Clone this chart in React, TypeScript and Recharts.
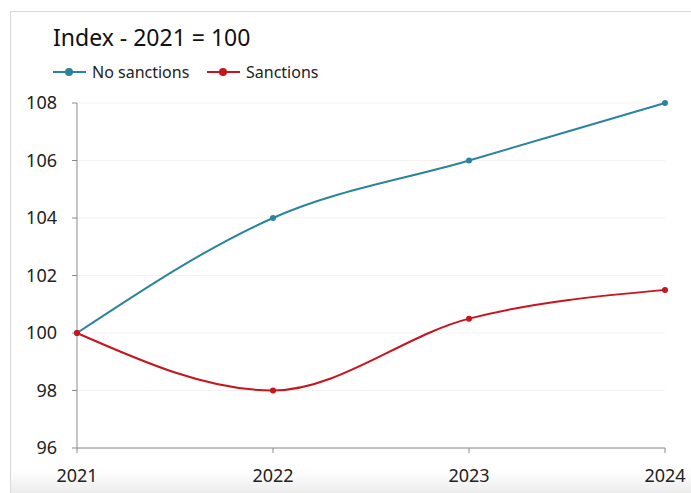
import React from 'react';
import { LineChart, Line, XAxis, YAxis, CartesianGrid } from 'recharts';

const years = ['2021', '2022', '2023', '2024'];
const noSanctions = [100, 104, 106, 108];
const sanctions = [100, 98, 100.5, 101.5];
const yTicks = [96, 98, 100, 102, 104, 106, 108];

const data = years.map((y, i) => ({ year: y, noSanctions: noSanctions[i], sanctions: sanctions[i] }));

const TEAL = '#2a84a0';
const RED = '#c8141e';
const FONT = '"Noto Sans", sans-serif';

const LegendItem = ({ color, label, left }: { color: string; label: string; left: number }) => (
  <div style={{ position: 'absolute', left, top: 61, display: 'flex', alignItems: 'center', height: 22 }}>
    <svg width={33} height={10} style={{ marginRight: 6 }}>
      <line x1={0} y1={5} x2={33} y2={5} stroke={color} strokeWidth={2} />
      <circle cx={16} cy={5} r={4} fill={color} />
    </svg>
    <span style={{ fontSize: 16, color: '#222', fontFamily: FONT }}>{label}</span>
  </div>
);

export default function App() {
  return (
    <div style={{ position: 'fixed', left: 0, top: 0, width: 691, height: 493, background: '#fff', overflow: 'hidden', fontFamily: FONT }}>
      <div style={{ position: 'absolute', left: 10, top: 11, right: -5, bottom: -5, borderTop: '1px solid #d8d8d8', borderLeft: '1px solid #d8d8d8' }} />
      <div style={{ position: 'absolute', left: 11, right: 0, top: 470, bottom: 0, background: 'linear-gradient(#ffffff, #ececec)' }} />
      <div style={{ position: 'absolute', left: 53, top: 20, fontSize: 23, color: '#111', fontFamily: FONT, lineHeight: '34px' }}>
        Index - 2021 = 100
      </div>
      <LegendItem color={TEAL} label="No sanctions" left={53} />
      <LegendItem color={RED} label="Sanctions" left={207} />
      <div style={{ position: 'absolute', left: 0, top: 0 }}>
        <LineChart width={691} height={493} data={data} margin={{ top: 103, right: 26, bottom: 0, left: 0 }}>
          <CartesianGrid vertical={false} stroke="#f2f2f2" />
          <XAxis
            dataKey="year"
            height={45}
            padding={{ left: 0, right: 0 }}
            tickSize={5}
            tickMargin={16}
            stroke="#8a8a8a"
            tick={{ fill: '#222', fontSize: 18, fontFamily: FONT }}
            interval={0}
          />
          <YAxis
            width={77}
            domain={[96, 108]}
            ticks={yTicks}
            tickSize={5}
            tickMargin={15}
            stroke="#8a8a8a"
            tick={{ fill: '#222', fontSize: 18, fontFamily: FONT }}
            interval={0}
          />
          <Line type="monotone" dataKey="noSanctions" stroke={TEAL} strokeWidth={2} dot={{ r: 3, fill: TEAL, stroke: TEAL, strokeWidth: 0 }} isAnimationActive={false} />
          <Line type="monotone" dataKey="sanctions" stroke={RED} strokeWidth={2} dot={{ r: 3, fill: RED, stroke: RED, strokeWidth: 0 }} isAnimationActive={false} />
        </LineChart>
      </div>
    </div>
  );
}
